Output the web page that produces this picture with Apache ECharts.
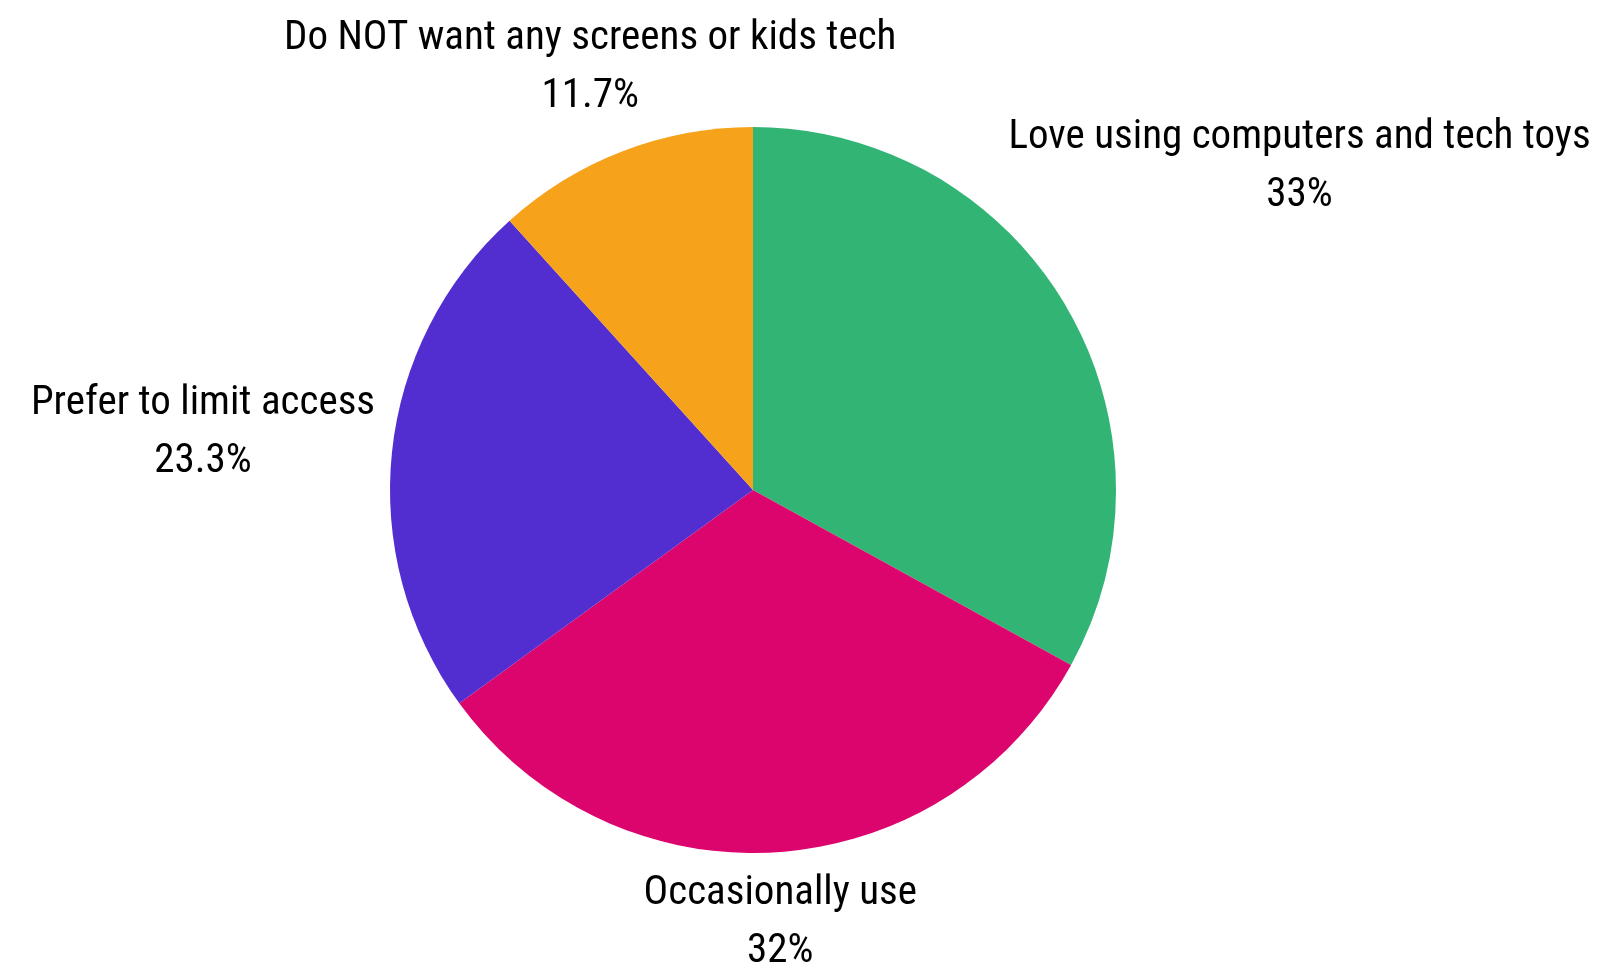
<!DOCTYPE html>
<html>
<head>
<meta charset="utf-8">
<script src="https://cdn.jsdelivr.net/npm/echarts@6/dist/echarts.min.js"></script>
<style>
  html, body { margin: 0; padding: 0; background: #fff; }
  #chart { width: 1606px; height: 967px; }
</style>
</head>
<body>
<div id="chart"></div>
<script>
// attitudes toward kids tech, share of respondents
const categories = [
    'Love using computers and tech toys',
    'Occasionally use',
    'Prefer to limit access',
    'Do NOT want any screens or kids tech'
];
const values = [33, 32, 23.3, 11.7];
const colors = ['#32b574', '#dc046d', '#522dcf', '#f7a21b'];

const CENTER = [753, 490];
const RADIUS = 363;
const GAP = 15;
const FONT = "'Roboto Condensed', 'Liberation Sans Narrow', 'DejaVu Sans Condensed', sans-serif";

const total = values.reduce((a, b) => a + b, 0);

// mid angle of each slice, clockwise from 12 o'clock
const midAngles = values.map((v, i) => {
    const before = values.slice(0, i).reduce((a, b) => a + b, 0);
    return (before + v / 2) / total * Math.PI * 2;
});

// push a centred label out along its slice ray until it clears the pie
const placeLabel = params => {
    const a = midAngles[params.dataIndex];
    const ux = Math.sin(a), uy = -Math.cos(a);
    const hw = params.labelRect.width / 2;
    const up = params.labelRect.height / 2 - 3;
    const down = params.labelRect.height / 2 - 14;
    let d = 0;
    for (; d < 1000; d++) {
        const px = ux * d, py = uy * d;
        const ex = Math.max(Math.abs(px) - hw, 0);
        const ey = Math.max(py - up, -(py + down), 0);
        if (Math.sqrt(ex * ex + ey * ey) >= RADIUS + GAP) break;
    }
    return {
        x: CENTER[0] + ux * d,
        y: CENTER[1] + uy * d,
        align: 'center',
        verticalAlign: 'middle'
    };
};

const chart = echarts.init(document.getElementById('chart'));
chart.setOption({
    animation: false,
    series: [{
        type: 'pie',
        center: CENTER,
        radius: RADIUS,
        startAngle: 90,
        clockwise: true,
        avoidLabelOverlap: false,
        data: categories.map((name, i) => ({
            name,
            value: values[i],
            itemStyle: { color: colors[i] }
        })),
        label: {
            show: true,
            position: 'outside',
            formatter: p => p.name + '\n' + p.value + '%',
            fontFamily: FONT,
            fontSize: 41,
            lineHeight: 58,
            color: '#000',
            align: 'center'
        },
        labelLine: { show: false },
        labelLayout: placeLabel,
        emphasis: { disabled: true }
    }]
});
</script>
</body>
</html>
